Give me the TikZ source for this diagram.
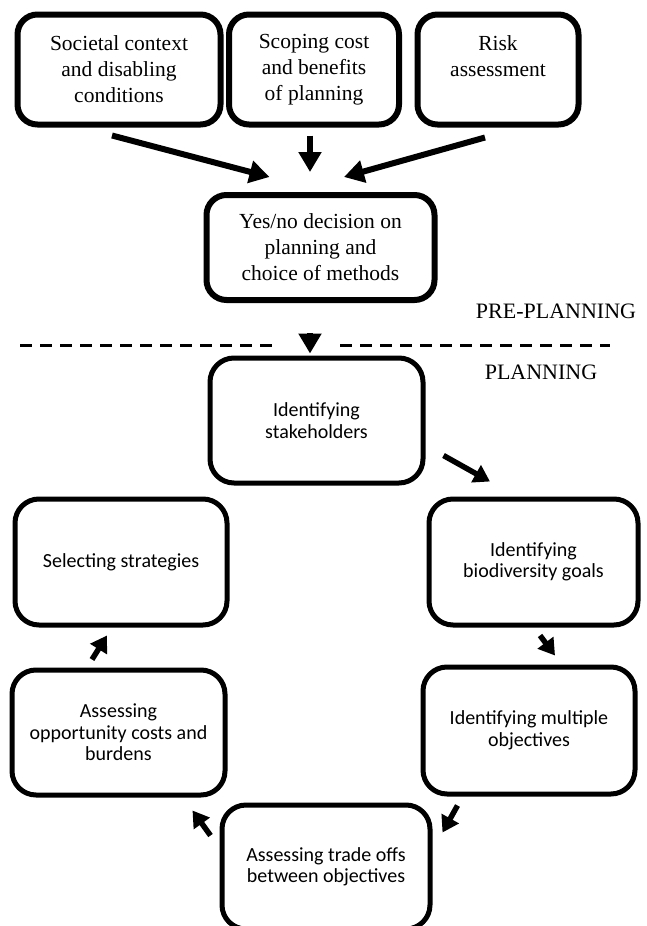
\documentclass[tikz,border=0pt]{standalone}
\usepackage{fontspec}
\setmainfont{Liberation Serif}
\newfontfamily\calibri{Carlito}
\usetikzlibrary{arrows.meta}

\begin{document}
\begin{tikzpicture}[x=1pt,y=-1pt,
    prebox/.style={draw,line width=6pt,rounded corners=20pt,align=center,inner sep=0pt,
      font=\fontsize{21.5}{26}\selectfont},
    planbox/.style={draw,line width=5pt,rounded corners=24pt,align=center,inner sep=0pt,
      font=\calibri\fontsize{20}{21.5}\selectfont},
    bigarr/.style={line width=6pt,-{Triangle[length=20pt,width=22pt]}},
    smallarr/.style={line width=5.5pt,-{Triangle[length=16pt,width=19pt]}},
    phase/.style={font=\fontsize{22}{26}\selectfont}]
    \useasboundingbox (0,0) rectangle (647,926);
    \clip (0,0) rectangle (647,926);
    \def\topH{110}
    % Pre-planning inputs
    \node[prebox,minimum width=203,minimum height=\topH] (soc) at (119,69.5) {Societal context\\and disabling\\conditions};
    \node[prebox,minimum width=170,minimum height=\topH] (scope) at (314,69.5) {Scoping cost\\and benefits\\of planning};
    \node[prebox,minimum width=161,minimum height=\topH] (risk) at (498,69.5) {Risk\\assessment\\~};
    % Decision
    \node[prebox,minimum width=228,minimum height=105] (yesno) at (320.5,247.5) {Yes/no decision on\\planning and\\choice of methods};
    \draw[bigarr] ([shift={(-7,8)}]soc.south) -- ([shift={(-51,-15)}]yesno.north);
    \draw[bigarr] ([shift={(-4,8)}]scope.south) -- ([shift={(-10.5,-20)}]yesno.north);
    \draw[bigarr] ([shift={(-13,10)}]risk.south) -- ([shift={(23.5,-15)}]yesno.north);
    % Phase split
    \node[phase] (pre) at (556,311) {PRE-PLANNING};
    \node[phase] (plan) at (541,372) {PLANNING};
    \draw[line width=3pt,dash pattern=on 12pt off 8pt] (20,345) -- (275,345);
    \draw[line width=3pt,dash pattern=on 12pt off 8pt] (340,345) -- (610,345);
    % Planning cycle
    \node[planbox,minimum width=213,minimum height=125] (stake) at (316.5,420.5) {Identifying\\stakeholders};
    \node[planbox,minimum width=209,minimum height=126] (bio) at (533.5,562) {Identifying\\biodiversity goals};
    \node[planbox,minimum width=212,minimum height=127] (multi) at (529,730.5) {Identifying multiple\\objectives};
    \node[planbox,minimum width=208,minimum height=124] (trade) at (326,867) {Assessing trade offs\\between objectives};
    \node[planbox,minimum width=213,minimum height=125] (opp) at (118.5,732.5) {Assessing\\opportunity costs and\\burdens};
    \node[planbox,minimum width=212,minimum height=126] (sel) at (121,562) {Selecting strategies};
    \draw[bigarr] ([shift={(-10.5,30)}]yesno.south) -- ([shift={(-6.5,-2)}]stake.north);
    \draw[smallarr] ([shift={(18,-30)}]stake.south east) -- ([shift={(-43.5,-15)}]bio.north);
    \draw[smallarr] ([shift={(6.5,8)}]bio.south) -- ([shift={(26,-9)}]multi.north);
    \draw[smallarr] ([shift={(37,9)}]multi.south west) -- ([shift={(10,30)}]trade.north east);
    \draw[smallarr] ([shift={(-9,33)}]trade.north west) -- ([shift={(-35,13)}]opp.south east);
    \draw[smallarr] ([shift={(-26.5,-8)}]opp.north) -- ([shift={(-14,8)}]sel.south);
\end{tikzpicture}
\end{document}
